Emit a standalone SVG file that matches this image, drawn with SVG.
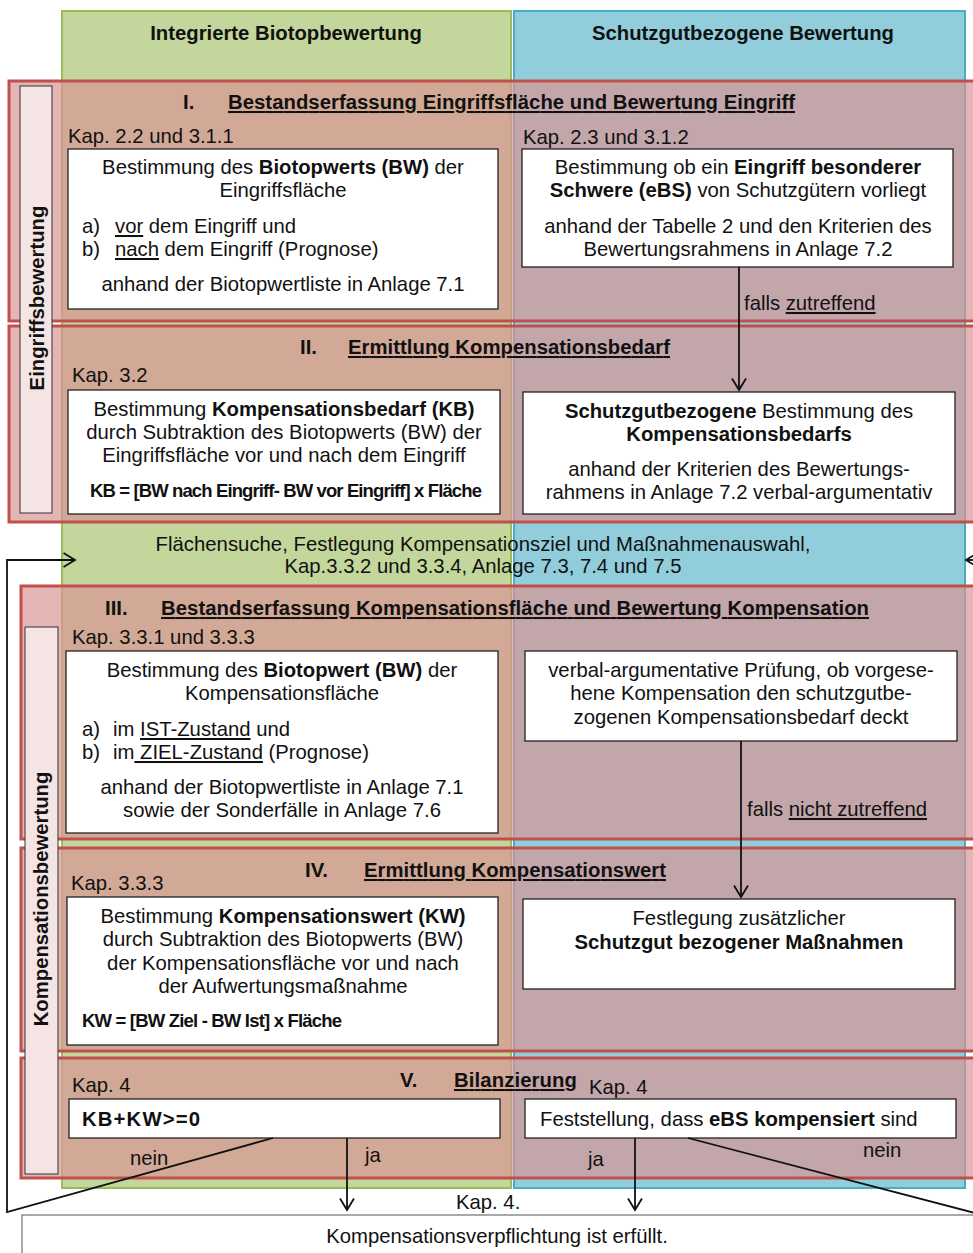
<svg xmlns="http://www.w3.org/2000/svg" width="973" height="1253" viewBox="0 0 973 1253">
<defs>
<style>
text{font-family:"Liberation Sans",Arial,sans-serif;font-size:20.3px;fill:#111}
.b{font-weight:bold}
.m{text-anchor:middle}
.u{text-decoration:underline}
.box{fill:#fff;stroke:#222;stroke-width:1.3}
.band{fill:#d99694;fill-opacity:0.7;stroke:#c0504d;stroke-width:3}
.bar{fill:#f4e4e3;stroke:#333;stroke-width:1}
.con{fill:none;stroke:#111;stroke-width:1.8}
</style>
<marker id="ah" viewBox="0 0 14 16" refX="12.5" refY="8" markerWidth="14" markerHeight="16" markerUnits="userSpaceOnUse" orient="auto">
<path d="M1,1 L12.5,8 L1,15" fill="none" stroke="#111" stroke-width="1.8"/>
</marker>
</defs>
<rect width="973" height="1253" fill="#fff"/>

<g id="columns">
<rect x="62" y="11" width="449" height="1177" fill="#c3d69b" stroke="#9bbb59" stroke-width="2"/>
<rect x="514" y="11" width="451" height="1177" fill="#92cddc" stroke="#4bacc6" stroke-width="2"/>
<text class="b m" x="286" y="40">Integrierte Biotopbewertung</text>
<text class="b m" x="743" y="40">Schutzgutbezogene Bewertung</text>
</g>

<g id="bands">
<rect class="band" x="9" y="81" width="980" height="240"/>
<rect class="band" x="9" y="326" width="980" height="196"/>
<rect class="band" x="21" y="586" width="970" height="253"/>
<rect class="band" x="21" y="848" width="970" height="203"/>
<rect class="band" x="21" y="1058" width="970" height="120"/>
</g>

<g id="bar-eingriff">
<rect class="bar" x="20" y="86" width="32" height="427"/>
<text class="b m" transform="translate(44,298) rotate(-90)">Eingriffsbewertung</text>
</g>
<g id="bar-kompensation">
<rect class="bar" x="25" y="627" width="33" height="547"/>
<text class="b m" transform="translate(48,899) rotate(-90)">Kompensationsbewertung</text>
</g>

<g id="titles">
<text class="b" x="183" y="109">I.</text>
<text class="b u" x="228" y="109" textLength="567" lengthAdjust="spacing">Bestandserfassung Eingriffsfläche und Bewertung Eingriff</text>
<text class="b" x="300" y="354">II.</text>
<text class="b u" x="348" y="354" textLength="322" lengthAdjust="spacing">Ermittlung Kompensationsbedarf</text>
<text class="b" x="105" y="615">III.</text>
<text class="b u" x="161" y="615" textLength="708" lengthAdjust="spacing">Bestandserfassung Kompensationsfläche und Bewertung Kompensation</text>
<text class="b" x="305" y="877">IV.</text>
<text class="b u" x="364" y="877" textLength="302" lengthAdjust="spacing">Ermittlung Kompensationswert</text>
<text class="b" x="400" y="1087">V.</text>
<text class="b u" x="454" y="1087" textLength="123" lengthAdjust="spacing">Bilanzierung</text>
</g>

<g id="kap-labels">
<text x="68" y="143">Kap. 2.2 und 3.1.1</text>
<text x="523" y="144">Kap. 2.3 und 3.1.2</text>
<text x="72" y="382">Kap. 3.2</text>
<text x="72" y="644">Kap. 3.3.1 und 3.3.3</text>
<text x="71" y="890">Kap. 3.3.3</text>
<text x="72" y="1092">Kap. 4</text>
<text x="589" y="1094">Kap. 4</text>
</g>

<g id="box-I-left">
<rect class="box" x="68" y="149" width="430" height="160"/>
<text class="m" x="283" y="174">Bestimmung des <tspan class="b">Biotopwerts (BW)</tspan> der</text>
<text class="m" x="283" y="197">Eingriffsfläche</text>
<text x="82" y="233">a)</text><text x="115" y="233"><tspan class="u">vor</tspan> dem Eingriff und</text>
<text x="82" y="256">b)</text><text x="115" y="256"><tspan class="u">nach</tspan> dem Eingriff (Prognose)</text>
<text class="m" x="283" y="291">anhand der Biotopwertliste in Anlage 7.1</text>
</g>

<g id="box-I-right">
<rect class="box" x="522" y="149" width="431" height="118"/>
<text class="m" x="738" y="174">Bestimmung ob ein <tspan class="b">Eingriff besonderer</tspan></text>
<text class="m" x="738" y="197"><tspan class="b">Schwere (eBS)</tspan> von Schutzgütern vorliegt</text>
<text class="m" x="738" y="233">anhand der Tabelle 2 und den Kriterien des</text>
<text class="m" x="738" y="256">Bewertungsrahmens in Anlage 7.2</text>
</g>

<g id="box-II-left">
<rect class="box" x="68" y="390" width="432" height="124"/>
<text class="m" x="284" y="416">Bestimmung <tspan class="b">Kompensationsbedarf (KB)</tspan></text>
<text class="m" x="284" y="439">durch Subtraktion des Biotopwerts (BW) der</text>
<text class="m" x="284" y="462">Eingriffsfläche vor und nach dem Eingriff</text>
<text class="b" x="90" y="497" style="font-size:18.5px" textLength="392" lengthAdjust="spacing">KB = [BW nach Eingriff- BW vor Eingriff] x Fläche</text>
</g>

<g id="box-II-right">
<rect class="box" x="523" y="392" width="432" height="122"/>
<text class="m" x="739" y="418"><tspan class="b">Schutzgutbezogene</tspan> Bestimmung des</text>
<text class="m b" x="739" y="441">Kompensationsbedarfs</text>
<text class="m" x="739" y="476">anhand der Kriterien des Bewertungs-</text>
<text class="m" x="739" y="499">rahmens in Anlage 7.2 verbal-argumentativ</text>
</g>

<g id="flaechensuche">
<text class="m" x="483" y="551" textLength="655" lengthAdjust="spacing">Flächensuche, Festlegung Kompensationsziel und Maßnahmenauswahl,</text>
<text class="m" x="483" y="573">Kap.3.3.2 und 3.3.4, Anlage 7.3, 7.4 und 7.5</text>
</g>

<g id="box-III-left">
<rect class="box" x="66" y="651" width="432" height="182"/>
<text class="m" x="282" y="677">Bestimmung des <tspan class="b">Biotopwert (BW)</tspan> der</text>
<text class="m" x="282" y="700">Kompensationsfläche</text>
<text x="82" y="736">a)</text><text x="113" y="736">im <tspan class="u">IST-Zustand</tspan> und</text>
<text x="82" y="759">b)</text><text x="113" y="759">im<tspan class="u"> ZIEL-Zustand</tspan> (Prognose)</text>
<text class="m" x="282" y="794">anhand der Biotopwertliste in Anlage 7.1</text>
<text class="m" x="282" y="817">sowie der Sonderfälle in Anlage 7.6</text>
</g>

<g id="box-III-right">
<rect class="box" x="525" y="651" width="432" height="90"/>
<text class="m" x="741" y="677">verbal-argumentative Prüfung, ob vorgese-</text>
<text class="m" x="741" y="700">hene Kompensation den schutzgutbe-</text>
<text class="m" x="741" y="724">zogenen Kompensationsbedarf deckt</text>
</g>

<g id="box-IV-left">
<rect class="box" x="67" y="897" width="431" height="148"/>
<text class="m" x="283" y="923">Bestimmung <tspan class="b">Kompensationswert (KW)</tspan></text>
<text class="m" x="283" y="946">durch Subtraktion des Biotopwerts (BW)</text>
<text class="m" x="283" y="970">der Kompensationsfläche vor und nach</text>
<text class="m" x="283" y="993">der Aufwertungsmaßnahme</text>
<text class="b" x="82" y="1027" style="font-size:18.5px" textLength="260" lengthAdjust="spacing">KW = [BW Ziel - BW Ist] x Fläche</text>
</g>

<g id="box-IV-right">
<rect class="box" x="523" y="899" width="432" height="90"/>
<text class="m" x="739" y="925">Festlegung zusätzlicher</text>
<text class="m b" x="739" y="949">Schutzgut bezogener Maßnahmen</text>
</g>

<g id="box-V-left">
<rect class="box" x="69" y="1099" width="431" height="39"/>
<text class="b" x="82" y="1126" textLength="118" lengthAdjust="spacing">KB+KW&gt;=0</text>
</g>

<g id="box-V-right">
<rect class="box" x="525" y="1099" width="431" height="39"/>
<text x="540" y="1126">Feststellung, dass <tspan class="b">eBS kompensiert</tspan> sind</text>
</g>

<g id="box-result">
<rect x="22" y="1215" width="990" height="60" fill="#fff" stroke="#555" stroke-width="1"/>
<text class="m" x="497" y="1243">Kompensationsverpflichtung ist erfüllt.</text>
</g>

<g id="connectors">
<line class="con" x1="739" y1="267" x2="739" y2="390" marker-end="url(#ah)"/>
<line class="con" x1="741" y1="741" x2="741" y2="897" marker-end="url(#ah)"/>
<line class="con" x1="347" y1="1138" x2="347" y2="1210" marker-end="url(#ah)"/>
<line class="con" x1="635" y1="1138" x2="635" y2="1210" marker-end="url(#ah)"/>
<polyline class="con" points="273,1138 7,1212 7,560 75,560" marker-end="url(#ah)"/>
<polyline class="con" points="688,1138 990,1217"/>
<line class="con" x1="990" y1="560" x2="966" y2="560" marker-end="url(#ah)"/>
</g>

<g id="connector-labels">
<text x="744" y="310">falls <tspan class="u">zutreffend</tspan></text>
<text x="747" y="816">falls <tspan class="u">nicht zutreffend</tspan></text>
<text x="130" y="1165">nein</text>
<text x="365" y="1162">ja</text>
<text x="588" y="1166">ja</text>
<text x="863" y="1157">nein</text>
<text x="456" y="1209">Kap. 4.</text>
</g>
</svg>
